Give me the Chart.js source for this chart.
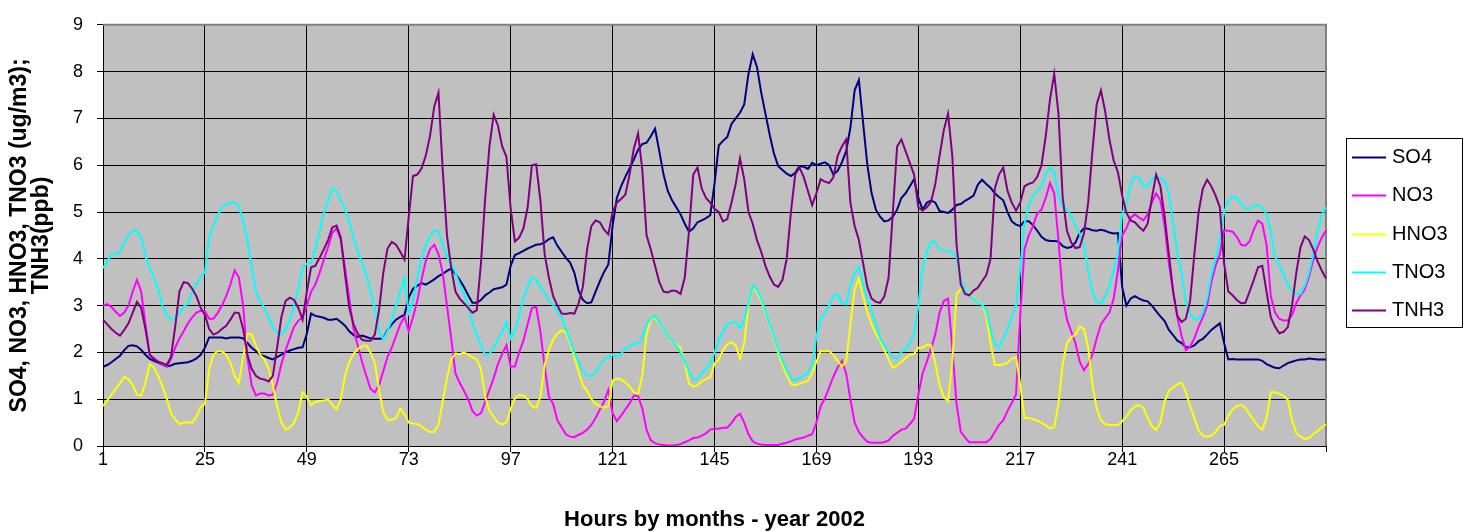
<!DOCTYPE html>
<html>
<head>
<meta charset="utf-8">
<title>SO4, NO3, HNO3, TNO3, TNH3 - 2002</title>
<script src="https://cdn.jsdelivr.net/npm/chart.js@4.4.1/dist/chart.umd.min.js"></script>
<style>
  html, body { margin: 0; padding: 0; background: #fff; }
  canvas { display: block; }
</style>
</head>
<body>
<canvas id="graph" width="1463" height="532"></canvas>
<script>
// hours along the x axis, 24 per month
const hours = Array.from({length: 289}, (_, i) => i + 1);
const tickLabels = ['1', '25', '49', '73', '97', '121', '145', '169', '193', '217', '241', '265'];

// ug/m3 (TNH3 in ppb), one row per month
const so4 = [
  1.69, 1.73, 1.79, 1.86, 1.93, 2.05, 2.14, 2.15, 2.13, 2.05, 1.95, 1.86, 1.82, 1.78, 1.74, 1.7, 1.72, 1.76, 1.77, 1.78, 1.79, 1.82, 1.87, 1.95,
  2.1, 2.32, 2.32, 2.32, 2.32, 2.3, 2.32, 2.32, 2.32, 2.3, 2.2, 2.1, 2.03, 1.95, 1.92, 1.88, 1.85, 1.9, 1.95, 2.0, 2.04, 2.07, 2.1, 2.11,
  2.4, 2.83, 2.78, 2.76, 2.74, 2.7, 2.7, 2.72, 2.65, 2.57, 2.45, 2.37, 2.33, 2.36, 2.33, 2.3, 2.29, 2.29, 2.3, 2.48, 2.6, 2.7, 2.76, 2.8,
  3.17, 3.36, 3.42, 3.48, 3.45, 3.5, 3.56, 3.63, 3.68, 3.74, 3.79, 3.68, 3.55, 3.4, 3.22, 3.06, 3.06, 3.12, 3.22, 3.28, 3.35, 3.37, 3.39, 3.45,
  3.85, 4.08, 4.12, 4.17, 4.22, 4.26, 4.3, 4.31, 4.35, 4.42, 4.46, 4.28, 4.15, 4.02, 3.92, 3.7, 3.32, 3.12, 3.05, 3.07, 3.3, 3.52, 3.72, 3.88,
  4.7, 5.3, 5.55, 5.75, 5.93, 6.12, 6.33, 6.45, 6.48, 6.62, 6.78, 6.3, 5.8, 5.45, 5.25, 5.1, 4.95, 4.75, 4.58, 4.65, 4.78, 4.82, 4.87, 4.93,
  5.6, 6.42, 6.52, 6.6, 6.88, 7.0, 7.12, 7.3, 7.95, 8.37, 8.1, 7.55, 7.1, 6.65, 6.25, 5.98, 5.9, 5.82, 5.77, 5.84, 5.98, 5.97, 5.92, 6.05,
  6.0, 6.03, 6.06, 6.0, 5.8, 5.88, 6.06, 6.3, 6.8, 7.6, 7.82, 6.9, 6.0, 5.4, 5.05, 4.9, 4.8, 4.82, 4.9, 5.05, 5.3, 5.4, 5.55, 5.7,
  5.3, 5.05, 5.2, 5.25, 5.2, 5.02, 5.0, 4.98, 5.05, 5.15, 5.17, 5.24, 5.29, 5.35, 5.58, 5.69, 5.6, 5.52, 5.4, 5.32, 5.25, 5.0, 4.8, 4.73,
  4.7, 4.8, 4.8, 4.72, 4.6, 4.47, 4.4, 4.38, 4.38, 4.37, 4.27, 4.23, 4.25, 4.35, 4.55, 4.65, 4.64, 4.61, 4.6, 4.62, 4.6, 4.56, 4.54, 4.55,
  3.4, 3.0, 3.15, 3.2, 3.15, 3.11, 3.09, 3.0, 2.88, 2.77, 2.67, 2.48, 2.37, 2.25, 2.2, 2.11, 2.11, 2.15, 2.24, 2.29, 2.38, 2.48, 2.55, 2.62,
  2.2, 1.85, 1.86, 1.85, 1.85, 1.85, 1.85, 1.85, 1.85, 1.82, 1.75, 1.71, 1.67, 1.66, 1.72, 1.77, 1.8, 1.83, 1.85, 1.85, 1.87, 1.86, 1.85, 1.85, 1.85
];
const no3 = [
  3.0, 3.03, 2.97, 2.87, 2.78, 2.85, 3.0, 3.3, 3.55, 3.3, 2.6, 1.95, 1.88, 1.8, 1.75, 1.7, 1.85, 2.1, 2.3, 2.45, 2.62, 2.75, 2.85, 2.89,
  2.88, 2.72, 2.72, 2.84, 3.0, 3.2, 3.45, 3.75, 3.6, 3.0, 1.9, 1.3, 1.08, 1.12, 1.12, 1.08, 1.1, 1.35, 1.75, 2.05, 2.3, 2.55, 2.68, 2.75,
  3.0, 3.3, 3.45, 3.7, 3.98, 4.25, 4.55, 4.65, 4.4, 3.8, 3.15, 2.5, 2.15, 1.8, 1.5, 1.22, 1.15, 1.3, 1.6, 1.9, 2.1, 2.35, 2.6, 2.76,
  2.45, 2.75, 3.1, 3.55, 3.95, 4.2, 4.3, 4.1, 3.7, 3.0, 2.3, 1.55, 1.35, 1.18, 1.0, 0.75, 0.65, 0.7, 0.95, 1.2, 1.45, 1.75, 1.97, 2.15,
  1.7, 1.7, 2.0, 2.25, 2.6, 2.95, 2.98, 2.45, 1.7, 1.06, 0.9, 0.55, 0.4, 0.25, 0.2, 0.19, 0.24, 0.28, 0.35, 0.45, 0.6, 0.78, 0.95, 1.2,
  0.7, 0.53, 0.65, 0.78, 0.91, 1.08, 1.07, 0.8, 0.35, 0.12, 0.06, 0.03, 0.02, 0.01, 0.01, 0.02, 0.04, 0.08, 0.12, 0.17, 0.18, 0.22, 0.27, 0.35,
  0.37, 0.37, 0.39, 0.39, 0.49, 0.62, 0.69, 0.5, 0.25, 0.1, 0.05, 0.03, 0.02, 0.02, 0.02, 0.02, 0.05, 0.07, 0.1, 0.14, 0.16, 0.18, 0.22, 0.25,
  0.5, 0.85, 1.02, 1.25, 1.48, 1.68, 1.82, 1.55, 1.0, 0.5, 0.3, 0.18, 0.09, 0.07, 0.07, 0.07, 0.08, 0.12, 0.22, 0.28, 0.35, 0.37, 0.47, 0.58,
  1.1, 1.55, 1.8, 2.08, 2.39, 2.85, 3.1, 3.15, 2.1, 0.9, 0.3, 0.18, 0.08, 0.08, 0.08, 0.08, 0.08, 0.15, 0.3, 0.45, 0.55, 0.75, 0.92, 1.1,
  2.8, 4.2, 4.5, 4.7, 4.97, 5.05, 5.3, 5.62, 5.4, 4.4, 3.2, 2.7, 2.45, 2.2, 1.8, 1.62, 1.75, 1.95, 2.3, 2.6, 2.73, 2.85, 3.15, 3.75,
  4.5, 4.65, 4.88, 4.95, 4.88, 4.82, 4.95, 5.2, 5.4, 5.25, 4.7, 3.9, 3.3, 2.75, 2.35, 2.05, 2.12, 2.3, 2.55, 2.75, 3.0, 3.5, 3.85, 4.1,
  4.61, 4.6, 4.58, 4.47, 4.3, 4.28, 4.37, 4.63, 4.82, 4.75, 4.3, 3.2, 2.85, 2.72, 2.68, 2.68, 2.8, 3.05, 3.22, 3.35, 3.62, 3.98, 4.25, 4.45, 4.61
];
const hno3 = [
  0.85, 0.97, 1.1, 1.22, 1.34, 1.48, 1.43, 1.3, 1.1, 1.08, 1.35, 1.75, 1.68, 1.5, 1.28, 1.02, 0.7, 0.57, 0.47, 0.5, 0.51, 0.5, 0.63, 0.83,
  0.9, 1.65, 1.95, 2.03, 2.02, 1.95, 1.78, 1.5, 1.35, 1.9, 2.4, 2.38, 2.15, 1.95, 1.85, 1.65, 1.3, 0.85, 0.5, 0.35, 0.4, 0.5, 0.72, 1.15,
  1.05, 0.87, 0.94, 0.96, 0.97, 1.0, 0.88, 0.78, 1.0, 1.5, 1.8, 1.97, 2.07, 2.13, 2.15, 2.0, 1.78, 1.2, 0.72, 0.56, 0.56, 0.6, 0.8, 0.68,
  0.5, 0.48, 0.47, 0.42, 0.35, 0.3, 0.3, 0.45, 0.95, 1.45, 1.85, 1.98, 1.96, 2.0, 1.95, 1.9, 1.85, 1.65, 1.05, 0.75, 0.62, 0.5, 0.46, 0.5,
  0.8, 1.02, 1.09, 1.08, 1.0, 0.85, 0.81, 1.05, 1.73, 2.05, 2.28, 2.4, 2.47, 2.43, 2.2, 1.9, 1.58, 1.3, 1.18, 1.0, 0.9, 0.85, 0.82, 0.85,
  1.4, 1.44, 1.42, 1.36, 1.27, 1.15, 1.12, 1.5, 2.4, 2.7, 2.75, 2.62, 2.5, 2.35, 2.23, 2.18, 2.1, 1.78, 1.33, 1.27, 1.3, 1.38, 1.43, 1.47,
  1.76, 1.85, 2.05, 2.17, 2.22, 2.15, 1.87, 2.2, 3.0, 3.4, 3.3, 3.1, 2.85, 2.57, 2.32, 1.98, 1.73, 1.52, 1.32, 1.3, 1.33, 1.36, 1.4, 1.55,
  1.8, 2.03, 2.02, 2.03, 1.94, 1.82, 1.7, 1.8, 2.6, 3.35, 3.58, 3.2, 2.85, 2.6, 2.4, 2.25, 2.05, 1.85, 1.67, 1.72, 1.8, 1.88, 1.95, 1.97,
  2.1, 2.1, 2.17, 2.15, 1.76, 1.3, 1.05, 0.95, 1.8, 3.25, 3.35, 3.35, 3.25, 3.17, 3.07, 3.03, 2.8, 2.2, 1.73, 1.73, 1.74, 1.78, 1.86, 1.9,
  1.3, 0.6, 0.6, 0.57, 0.54, 0.5, 0.44, 0.38, 0.4, 0.9, 1.75, 2.2, 2.32, 2.38, 2.55, 2.5, 2.1, 1.3, 0.8, 0.55, 0.47, 0.45, 0.45, 0.45,
  0.53, 0.63, 0.76, 0.85, 0.87, 0.82, 0.6, 0.42, 0.34, 0.5, 0.95, 1.18, 1.25, 1.32, 1.35, 1.15, 0.85, 0.6, 0.33, 0.22, 0.2, 0.22, 0.3, 0.43,
  0.45, 0.65, 0.78, 0.85, 0.88, 0.82, 0.68, 0.55, 0.42, 0.35, 0.6, 1.15, 1.15, 1.12, 1.07, 0.99, 0.55, 0.28, 0.2, 0.15, 0.17, 0.25, 0.32, 0.4, 0.46
];
const tno3 = [
  3.8, 3.95, 4.1, 4.1, 4.15, 4.35, 4.5, 4.6, 4.6, 4.45, 4.05, 3.8, 3.6, 3.35, 3.0, 2.8, 2.7, 2.71, 2.85, 2.98, 3.05, 3.28, 3.45, 3.62,
  3.7, 4.45, 4.72, 4.93, 5.1, 5.17, 5.21, 5.2, 5.12, 4.8, 4.4, 3.85, 3.3, 3.1, 2.95, 2.75, 2.55, 2.42, 2.38, 2.5, 2.7, 3.0, 3.35, 3.8,
  3.9, 3.9, 4.2, 4.6, 4.98, 5.25, 5.5, 5.45, 5.25, 5.05, 4.8, 4.45, 4.15, 3.9, 3.65, 3.3, 2.95, 2.45, 2.28, 2.45, 2.7, 3.0, 3.3, 3.58,
  2.85, 3.1, 3.6, 4.0, 4.3, 4.48, 4.6, 4.58, 4.3, 4.05, 3.9, 3.7, 3.45, 3.25, 3.0, 2.6, 2.38, 2.15, 1.95, 1.97, 2.1, 2.28, 2.45, 2.65,
  2.3, 2.45, 2.8, 3.15, 3.4, 3.6, 3.55, 3.4, 3.28, 3.1, 3.02, 2.88, 2.75, 2.5, 2.25, 2.0, 1.8, 1.6, 1.5, 1.5, 1.58, 1.72, 1.85, 1.9,
  1.95, 1.9, 1.97, 2.08, 2.13, 2.18, 2.2, 2.3, 2.6, 2.72, 2.78, 2.64, 2.5, 2.35, 2.25, 2.15, 2.0, 1.8, 1.6, 1.42, 1.44, 1.55, 1.65, 1.75,
  2.0, 2.25, 2.45, 2.59, 2.64, 2.64, 2.52, 2.7, 3.05, 3.42, 3.35, 3.15, 2.88, 2.6, 2.35, 2.05, 1.82, 1.62, 1.45, 1.4, 1.45, 1.5, 1.57, 1.72,
  2.35, 2.7, 2.85, 3.0, 3.2, 3.24, 3.05, 3.03, 3.45, 3.7, 3.82, 3.45, 3.15, 2.9, 2.6, 2.3, 2.15, 2.02, 1.9, 1.87, 2.02, 2.06, 2.2, 2.4,
  3.0, 3.8, 4.15, 4.37, 4.35, 4.2, 4.18, 4.17, 4.12, 4.05, 3.55, 3.35, 3.22, 3.15, 3.06, 3.02, 2.9, 2.5, 2.18, 2.1, 2.3, 2.5, 2.75, 3.0,
  3.8, 4.75, 5.15, 5.35, 5.45, 5.55, 5.8, 5.95, 5.85, 5.35, 5.12, 5.05, 4.9, 4.72, 4.55, 4.3, 3.75, 3.3, 3.07, 3.05, 3.2, 3.42, 3.75, 4.1,
  4.95, 5.2, 5.6, 5.77, 5.72, 5.55, 5.55, 5.7, 5.76, 5.72, 5.66, 5.4, 4.75, 4.1, 3.7, 3.1, 2.82, 2.71, 2.71, 2.85, 3.15, 3.65, 4.0, 4.4,
  5.0, 5.25, 5.33, 5.3, 5.18, 5.07, 5.07, 5.13, 5.15, 5.1, 4.95, 4.6, 4.05, 3.85, 3.68, 3.45, 3.32, 3.25, 3.25, 3.42, 3.7, 4.1, 4.6, 4.95, 5.1
];
const tnh3 = [
  2.7, 2.6, 2.5, 2.42, 2.36, 2.48, 2.62, 2.85, 3.08, 2.95, 2.5, 1.95, 1.85, 1.8, 1.77, 1.73, 1.9, 2.55, 3.3, 3.5, 3.48, 3.36, 3.2, 2.95,
  2.8, 2.5, 2.38, 2.42, 2.5, 2.57, 2.7, 2.85, 2.84, 2.5, 1.95, 1.65, 1.5, 1.44, 1.42, 1.38, 1.5, 2.1, 2.75, 3.1, 3.17, 3.12, 2.95, 2.7,
  3.3, 3.82, 3.85, 4.02, 4.2, 4.4, 4.67, 4.71, 4.45, 3.66, 2.95, 2.6, 2.4, 2.27, 2.25, 2.25, 2.38, 2.9, 3.7, 4.22, 4.36, 4.3, 4.15, 3.98,
  4.9, 5.77, 5.8, 5.93, 6.2, 6.62, 7.25, 7.55, 5.9, 4.5, 3.8, 3.3, 3.15, 3.05, 2.95, 2.85, 2.9, 3.9, 5.3, 6.4, 7.08, 6.85, 6.4, 6.18,
  5.07, 4.37, 4.45, 4.65, 5.1, 6.0, 6.02, 5.25, 4.1, 3.6, 3.2, 3.0, 2.83, 2.82, 2.84, 2.83, 3.05, 3.4, 4.2, 4.7, 4.82, 4.78, 4.62, 4.52,
  5.0, 5.2, 5.28, 5.37, 5.8, 6.35, 6.68, 5.9, 4.5, 4.2, 3.85, 3.5, 3.3, 3.28, 3.32, 3.31, 3.25, 3.6, 4.6, 5.8, 5.95, 5.5, 5.3, 5.2,
  5.07, 5.0, 4.8, 4.85, 5.2, 5.6, 6.15, 5.7, 5.0, 4.75, 4.4, 4.15, 3.85, 3.62, 3.45, 3.4, 3.55, 4.0, 5.0, 5.8, 5.95, 5.75, 5.45, 5.15,
  5.4, 5.7, 5.65, 5.62, 5.74, 6.2, 6.4, 6.55, 5.2, 4.7, 4.4, 3.9, 3.4, 3.15, 3.08, 3.06, 3.2, 3.6, 5.0, 6.4, 6.55, 6.3, 6.05, 5.8,
  5.1, 5.03, 5.1, 5.22, 5.6, 6.2, 6.75, 7.1, 6.2, 4.3, 3.45, 3.25, 3.22, 3.32, 3.38, 3.52, 3.65, 4.0, 5.5, 5.8, 5.95, 5.45, 5.2, 5.03,
  5.2, 5.55, 5.6, 5.63, 5.75, 6.0, 6.62, 7.4, 7.95, 7.1, 5.3, 4.6, 4.35, 4.23, 4.25, 4.54, 5.2, 6.3, 7.3, 7.6, 7.15, 6.55, 6.1, 5.85,
  5.35, 4.98, 4.82, 4.78, 4.68, 4.6, 4.75, 5.3, 5.8, 5.55, 4.9, 4.1, 3.3, 2.78, 2.65, 2.72, 3.1, 4.1, 5.0, 5.5, 5.69, 5.55, 5.35, 5.1,
  3.9, 3.3, 3.22, 3.12, 3.05, 3.06, 3.3, 3.55, 3.82, 3.85, 3.3, 2.75, 2.55, 2.41, 2.44, 2.54, 3.0, 3.7, 4.25, 4.48, 4.4, 4.2, 3.95, 3.75, 3.58
];

const FONT = '"Liberation Sans", Arial, sans-serif';

// gray plot area like the excel chart
const plotBg = {
    id: 'plotBg',
    beforeDraw(chart) {
        const {ctx, chartArea: a} = chart;
        ctx.save();
        ctx.fillStyle = '#c0c0c0';
        ctx.fillRect(a.left, a.top, a.right - a.left, a.bottom - a.top);
        ctx.restore();
    },
    beforeDatasetsDraw(chart) {
        const {ctx, chartArea: a} = chart;
        ctx.save();
        ctx.strokeStyle = '#808080';
        ctx.lineWidth = 2;
        ctx.beginPath();
        ctx.moveTo(a.left, a.top);
        ctx.lineTo(a.right, a.top);
        ctx.lineTo(a.right, a.bottom);
        ctx.stroke();
        ctx.restore();
    }
};

// legend with a frame, on the right
const boxLegend = {
    id: 'boxLegend',
    afterDraw(chart) {
        const ctx = chart.ctx;
        const x = 1346, y = 138, w = 116, h = 189;
        ctx.save();
        ctx.fillStyle = '#fff';
        ctx.fillRect(x, y, w, h);
        ctx.strokeStyle = '#000';
        ctx.lineWidth = 1;
        ctx.strokeRect(x + 0.5, y + 0.5, w, h);
        ctx.font = '20px ' + FONT;
        ctx.textBaseline = 'middle';
        chart.data.datasets.forEach((ds, i) => {
            const cy = Math.round(y + 19 + i * 38.3) + 0.5;
            ctx.strokeStyle = ds.borderColor;
            ctx.lineWidth = 2;
            ctx.beginPath();
            ctx.moveTo(x + 6, cy);
            ctx.lineTo(x + 40, cy);
            ctx.stroke();
            ctx.fillStyle = '#000';
            ctx.fillText(ds.label, x + 46, cy);
        });
        ctx.restore();
    }
};

const line = (label, data, color, order) => ({
    label: label,
    data: data,
    borderColor: color,
    backgroundColor: color,
    borderWidth: 2,
    pointRadius: 0,
    tension: 0,
    order: order,
});

const graph = document.getElementById('graph');
const chart = new Chart(graph, {
    type: 'line',
    data: {
        labels: hours,
        datasets: [
            line('SO4', so4, '#000080', 5),
            line('NO3', no3, '#ff00ff', 4),
            line('HNO3', hno3, '#ffff00', 3),
            line('TNO3', tno3, '#00ffff', 2),
            line('TNH3', tnh3, '#800080', 1),
        ]
    },
    options: {
        responsive: false,
        animation: false,
        layout: { padding: { top: 19, right: 137, left: 0, bottom: 0 } },
        plugins: {
            legend: { display: false },
            tooltip: { enabled: false },
        },
        scales: {
            x: {
                type: 'category',
                afterBuildTicks: (s) => { s.ticks = s.ticks.filter(t => t.value % 24 === 0); },
                afterFit: (s) => { s.height = 86; },
                ticks: {
                    autoSkip: false,
                    maxRotation: 0,
                    padding: -3,
                    color: '#000',
                    font: { family: FONT, size: 18 },
                    callback: (v) => tickLabels.includes(String(hours[v])) ? String(hours[v]) : '',
                },
                grid: { color: '#000', lineWidth: 1, tickLength: 6 },
                border: { color: '#000', width: 1 },
                title: {
                    display: true,
                    text: 'Hours by months - year 2002',
                    color: '#000',
                    font: { family: FONT, size: 22, weight: 'bold', lineHeight: 1 },
                    padding: { top: 0, bottom: 1 },
                },
            },
            y: {
                min: 0,
                max: 9,
                afterFit: (s) => { s.width = 103; },
                ticks: {
                    stepSize: 1,
                    padding: 14,
                    color: '#000',
                    font: { family: FONT, size: 18 },
                },
                grid: { color: '#000', lineWidth: 1, tickLength: 6 },
                border: { color: '#000', width: 1 },
                title: {
                    display: true,
                    text: ['SO4, NO3, HNO3, TNO3 (ug/m3);', 'TNH3(ppb)'],
                    color: '#000',
                    font: { family: FONT, size: 23, weight: 'bold', lineHeight: 0.95 },
                    padding: { top: 9, bottom: 0 },
                },
            },
        },
    },
    plugins: [plotBg, boxLegend],
});
</script>
</body>
</html>
